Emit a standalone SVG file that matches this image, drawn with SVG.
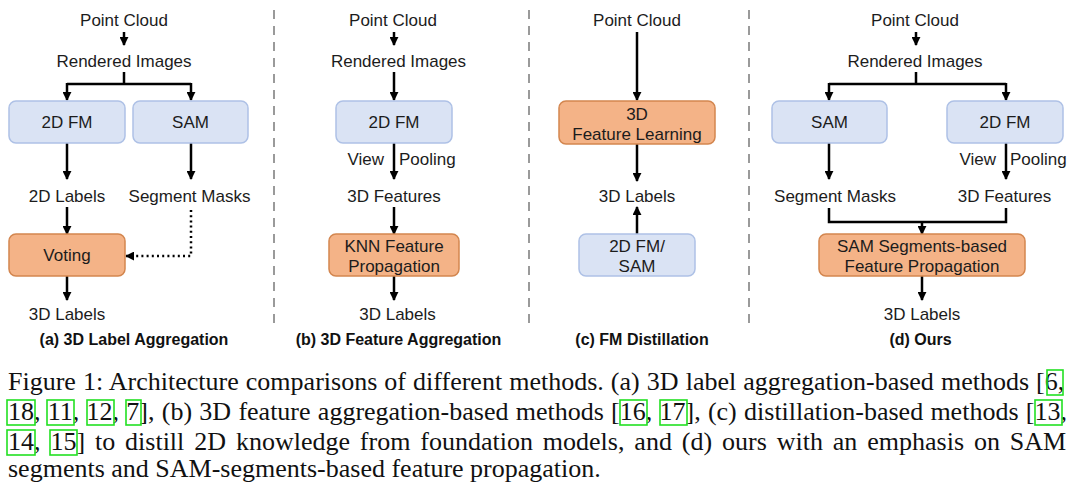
<svg xmlns="http://www.w3.org/2000/svg" width="1080" height="488" viewBox="0 0 1080 488">
<defs>
<style>
.t{font-family:"Liberation Sans",Arial,sans-serif;font-size:17px;fill:#1c1c1c;text-anchor:middle}
.ts{font-family:"Liberation Sans",Arial,sans-serif;font-size:17px;fill:#1c1c1c}
.cap{font-family:"Liberation Sans",Arial,sans-serif;font-size:16px;font-weight:bold;fill:#111;text-anchor:middle}
.blue{fill:#dae3f4;stroke:#aec1e6;stroke-width:1.5}
.orange{fill:#f4b387;stroke:#d3864f;stroke-width:1.5}
.ln{fill:none;stroke:#000;stroke-width:2.5}
.arr{fill:none;stroke:#000;stroke-width:2.5;marker-end:url(#ah)}
.dot{fill:none;stroke:#000;stroke-width:2.5;stroke-dasharray:2 3.2;marker-end:url(#ah)}
.sep{stroke:#9a9a9a;stroke-width:2;stroke-dasharray:9 7}
.fc{font-family:"Liberation Serif","Times New Roman",serif;font-size:26px;fill:#111}
.cite{fill:none;stroke:#22e022;stroke-width:1.6}
</style>
<marker id="ah" viewBox="0 0 10 10" refX="9" refY="5" markerWidth="9" markerHeight="9" markerUnits="userSpaceOnUse" orient="auto">
<path d="M0,0 L10,5 L0,10 z" fill="#000"/>
</marker>
</defs>
<rect width="1080" height="488" fill="#fff"/>

<g id="separators">
<line class="sep" x1="274" y1="10" x2="274" y2="330"/>
<line class="sep" x1="529" y1="10" x2="529" y2="330"/>
<line class="sep" x1="749" y1="10" x2="749" y2="330"/>
</g>

<g id="connectors">
<!-- (a) -->
<path class="arr" d="M124,32 V45"/>
<path class="ln" d="M124,72 V84 M67,84 H191"/>
<path class="arr" d="M67,83 V100"/>
<path class="arr" d="M191,83 V100"/>
<path class="arr" d="M67,143 V179"/>
<path class="arr" d="M191,143 V179"/>
<path class="arr" d="M67,207 V234"/>
<path class="dot" d="M191,210 V256 H126"/>
<path class="arr" d="M67,276 V300"/>
<!-- (b) -->
<path class="arr" d="M394,32 V45"/>
<path class="arr" d="M394,72 V100"/>
<path class="arr" d="M394,143 V179"/>
<path class="arr" d="M394,207 V234"/>
<path class="arr" d="M394,276 V300"/>
<!-- (c) -->
<path class="arr" d="M637,32 V100"/>
<path class="arr" d="M637,144 V181"/>
<path class="arr" d="M637,234 V207"/>
<!-- (d) -->
<path class="arr" d="M916,32 V45"/>
<path class="ln" d="M916,72 V84 M829,84 H1006"/>
<path class="arr" d="M829,83 V100"/>
<path class="arr" d="M1006,83 V100"/>
<path class="arr" d="M829,143 V179"/>
<path class="arr" d="M1006,143 V179"/>
<path class="ln" d="M829,208 V222 H1006 V208"/>
<path class="arr" d="M922,221 V234"/>
<path class="arr" d="M922,276 V300"/>
</g>

<!-- Panel (a) -->
<g id="a-pointcloud"><text class="t" x="124" y="26">Point Cloud</text></g>
<g id="a-rendered"><text class="t" x="124" y="67">Rendered Images</text></g>
<g id="a-2dfm"><rect class="blue" x="9" y="101" width="116" height="42" rx="7"/><text class="t" x="67" y="128">2D FM</text></g>
<g id="a-sam"><rect class="blue" x="133" y="101" width="115" height="42" rx="7"/><text class="t" x="190.5" y="128">SAM</text></g>
<g id="a-2dlabels"><text class="t" x="67" y="202">2D Labels</text></g>
<g id="a-segmasks"><text class="t" x="189.5" y="202">Segment Masks</text></g>
<g id="a-voting"><rect class="orange" x="9" y="234" width="116" height="42" rx="7"/><text class="t" x="67" y="261">Voting</text></g>
<g id="a-3dlabels"><text class="t" x="67" y="320">3D Labels</text></g>
<g id="a-caption"><text class="cap" x="134" y="345">(a) 3D Label Aggregation</text></g>

<!-- Panel (b) -->
<g id="b-pointcloud"><text class="t" x="393" y="26">Point Cloud</text></g>
<g id="b-rendered"><text class="t" x="398.5" y="67">Rendered Images</text></g>
<g id="b-2dfm"><rect class="blue" x="336" y="101" width="116" height="42" rx="7"/><text class="t" x="394" y="128">2D FM</text></g>
<g id="b-viewpooling"><text class="ts" x="384" y="165" text-anchor="end">View</text><text class="ts" x="399" y="165">Pooling</text></g>
<g id="b-3dfeatures"><text class="t" x="394" y="202">3D Features</text></g>
<g id="b-knn"><rect class="orange" x="329" y="234" width="130" height="42" rx="7"/><text class="t" x="394" y="252">KNN Feature</text><text class="t" x="394" y="272">Propagation</text></g>
<g id="b-3dlabels"><text class="t" x="397.5" y="320">3D Labels</text></g>
<g id="b-caption"><text class="cap" x="398.5" y="345">(b) 3D Feature Aggregation</text></g>

<!-- Panel (c) -->
<g id="c-pointcloud"><text class="t" x="637" y="26">Point Cloud</text></g>
<g id="c-featlearn"><rect class="orange" x="559" y="101" width="156" height="43" rx="7"/><text class="t" x="637" y="120">3D</text><text class="t" x="637" y="140">Feature Learning</text></g>
<g id="c-3dlabels"><text class="t" x="637" y="202">3D Labels</text></g>
<g id="c-fmsam"><rect class="blue" x="579" y="234" width="116" height="42" rx="7"/><text class="t" x="637" y="252">2D FM/</text><text class="t" x="637" y="272">SAM</text></g>
<g id="c-caption"><text class="cap" x="642" y="345">(c) FM Distillation</text></g>

<!-- Panel (d) -->
<g id="d-pointcloud"><text class="t" x="915" y="26">Point Cloud</text></g>
<g id="d-rendered"><text class="t" x="915" y="67">Rendered Images</text></g>
<g id="d-sam"><rect class="blue" x="772" y="101" width="115" height="42" rx="7"/><text class="t" x="829.5" y="128">SAM</text></g>
<g id="d-2dfm"><rect class="blue" x="947" y="101" width="116" height="42" rx="7"/><text class="t" x="1005" y="128">2D FM</text></g>
<g id="d-viewpooling"><text class="ts" x="996" y="165" text-anchor="end">View</text><text class="ts" x="1010" y="165">Pooling</text></g>
<g id="d-segmasks"><text class="t" x="835" y="202">Segment Masks</text></g>
<g id="d-3dfeatures"><text class="t" x="1004.5" y="202">3D Features</text></g>
<g id="d-prop"><rect class="orange" x="819" y="234" width="206" height="42" rx="7"/><text class="t" x="922" y="252">SAM Segments-based</text><text class="t" x="922" y="272">Feature Propagation</text></g>
<g id="d-3dlabels"><text class="t" x="922" y="320">3D Labels</text></g>
<g id="d-caption"><text class="cap" x="920.5" y="345">(d) Ours</text></g>

<!-- Figure caption -->
<g id="figure-caption">
<text class="fc" x="8" y="390" style="word-spacing:0.58px">Figure 1: Architecture comparisons of different methods. (a) 3D label aggregation-based methods [6,</text>
<text class="fc" x="8" y="420" style="word-spacing:0.77px">18, 11, 12, 7], (b) 3D feature aggregation-based methods [16, 17], (c) distillation-based methods [13,</text>
<text class="fc" x="8" y="450" style="word-spacing:3.4px">14, 15] to distill 2D knowledge from foundation models, and (d) ours with an emphasis on SAM</text>
<text class="fc" x="8" y="477">segments and SAM-segments-based feature propagation.</text>
<rect class="cite" x="1047" y="370" width="16" height="25"/>
<rect class="cite" x="7" y="400" width="28" height="25"/>
<rect class="cite" x="47" y="400" width="27" height="25"/>
<rect class="cite" x="87" y="400" width="27" height="25"/>
<rect class="cite" x="126" y="400" width="15" height="25"/>
<rect class="cite" x="620" y="400" width="27" height="25"/>
<rect class="cite" x="660" y="400" width="27" height="25"/>
<rect class="cite" x="1035" y="400" width="27" height="25"/>
<rect class="cite" x="7" y="430" width="28" height="25"/>
<rect class="cite" x="50" y="430" width="27" height="25"/>
</g>
</svg>
